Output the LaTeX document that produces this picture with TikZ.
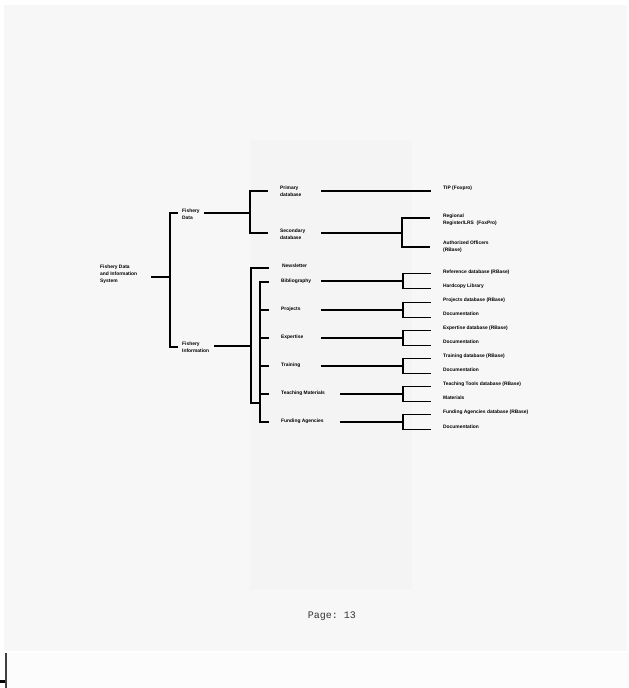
\documentclass[tikz,border=0pt]{standalone}
\usepackage{fontspec}
\setmainfont{Liberation Sans}
\newfontfamily\pgmono{Liberation Mono}
\newcommand\lblfont{\fontsize{4.9}{7}\selectfont\bfseries}
\begin{document}
\begin{tikzpicture}[x=1pt,y=-1pt,
  lbl/.style={font=\lblfont, align=left, anchor=west, inner sep=0pt},
  conn/.style={line width=1.7pt, black, line cap=rect}]
\useasboundingbox (0,0) rectangle (629,688);
% paper background
\fill[white] (0,0) rectangle (629,688);
\fill[gray!6] (4,5) rectangle (627,651);
\fill[gray!9] (250,140) rectangle (412,590);
\fill[gray!2] (6,653) rectangle (629,688);
\fill[black!75] (4.5,653) rectangle (7,688);
\fill[black] (0,680) rectangle (5,682.5);

% labels
\node[lbl] (root) at (100,274) {Fishery Data\\and Information\\System};
\node[lbl] (fd) at (182,214.5) {Fishery\\Data};
\node[lbl] (fi) at (182,347.5) {Fishery\\Information};
\node[lbl] (pd) at (280,191.5) {Primary\\database};
\node[lbl] (sd) at (280,234.5) {Secondary\\database};
\node[lbl] (tip) at (443,188) {TIP (Foxpro)};
\node[lbl] (reg) at (443,219.5) {Regional\\Register/LRS\ \ (FoxPro)};
\node[lbl] (ao) at (443,246.5) {Authorized Officers\\(RBase)};
\node[lbl] (nl) at (282,266) {Newsletter};
\node[lbl] (bib) at (281,281) {Bibliography};
\node[lbl] (prj) at (281,309.5) {Projects};
\node[lbl] (exp) at (281,337.5) {Expertise};
\node[lbl] (trn) at (281,365.5) {Training};
\node[lbl] (tm) at (281,393.5) {Teaching Materials};
\node[lbl] (fa) at (281,421.5) {Funding Agencies};
\node[lbl] (r1a) at (443,272) {Reference database (RBase)};
\node[lbl] (r1b) at (443,286) {Hardcopy Library};
\node[lbl] (r2a) at (443,300) {Projects database (RBase)};
\node[lbl] (r2b) at (443,314) {Documentation};
\node[lbl] (r3a) at (443,328) {Expertise database (RBase)};
\node[lbl] (r3b) at (443,342) {Documentation};
\node[lbl] (r4a) at (443,356) {Training database (RBase)};
\node[lbl] (r4b) at (443,370) {Documentation};
\node[lbl] (r5a) at (443,384) {Teaching Tools database (RBase)};
\node[lbl] (r5b) at (443,398) {Materials};
\node[lbl] (r6a) at (443,412.5) {Funding Agencies database (RBase)};
\node[lbl] (r6b) at (443,427) {Documentation};

\node[font=\pgmono\fontsize{10}{12}\selectfont, text=black!80, inner sep=0pt] (page) at (332,616) {Page:\ 13};

% root bracket
\coordinate (rootE) at (152,277);
\coordinate (rootJ) at (170,277);
\coordinate (rT) at (170,213);
\coordinate (rB) at (170,347);
\coordinate (fdW) at (177,213);
\coordinate (fiW) at (177,347);
\draw[conn] (rootE) -- (rootJ);
\draw[conn] (fdW) -- (rT) -- (rB) -- (fiW);

% Fishery Data bracket
\coordinate (fdE) at (205,213);
\coordinate (fdJ) at (250,213);
\coordinate (fdT) at (250,191);
\coordinate (fdB) at (250,233);
\coordinate (pdW) at (267,191);
\coordinate (sdW) at (267,233);
\draw[conn] (fdE) -- (fdJ);
\draw[conn] (pdW) -- (fdT) -- (fdB) -- (sdW);

% Primary -> TIP
\coordinate (pdE) at (322,191);
\coordinate (tipW) at (430,191);
\draw[conn] (pdE) -- (tipW);

% Secondary bracket
\coordinate (sdE) at (322,233);
\coordinate (sdJ) at (402,233);
\coordinate (sdT) at (402,218);
\coordinate (sdB) at (402,247);
\coordinate (regW) at (429,218);
\coordinate (aoW) at (429,247);
\draw[conn] (sdE) -- (sdJ);
\draw[conn] (regW) -- (sdT) -- (sdB) -- (aoW);

% Fishery Information brackets
\coordinate (fiE) at (215,346);
\coordinate (fiJ) at (251,346);
\coordinate (oT) at (251,268);
\coordinate (oB) at (251,403);
\coordinate (nlW) at (268,268);
\coordinate (iT) at (260,282);
\coordinate (iB) at (260,422);
\coordinate (iJ) at (260,403);
\draw[conn] (fiE) -- (fiJ);
\draw[conn] (nlW) -- (oT) -- (oB) -- (iJ);
\draw[conn] (268,282) -- (iT) -- (iB) -- (268,422);
\foreach \y in {310,338,366,394} {
  \coordinate (tick\y) at (260,\y);
  \draw[conn] (tick\y) -- (268,\y);
}

% right-hand brackets
\foreach \n/\y/\xs in {1/281/322, 2/310/322, 3/338/322, 4/366/322, 5/394/341, 6/422/341} {
  \coordinate (s\n) at (\xs,\y);
  \coordinate (j\n) at (403,\y);
  \coordinate (ta\n) at (403,\y-7.5);
  \coordinate (tb\n) at (403,\y+7.5);
  \coordinate (ea\n) at (430,\y-7.5);
  \coordinate (eb\n) at (430,\y+7.5);
  \draw[conn] (s\n) -- (j\n);
  \draw[conn] (ea\n) -- (ta\n) -- (tb\n) -- (eb\n);
}
\end{tikzpicture}
\end{document}
